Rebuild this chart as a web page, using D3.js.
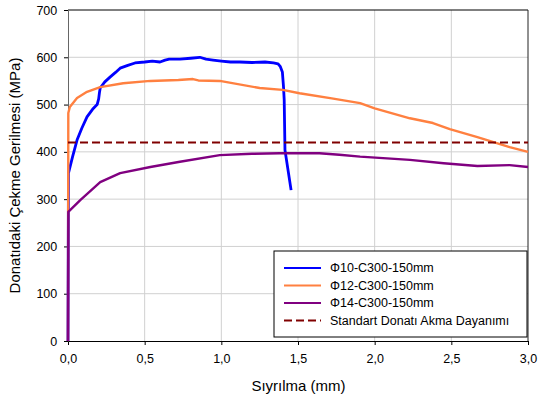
<!DOCTYPE html>
<html>
<head>
<meta charset="utf-8">
<script src="https://cdn.jsdelivr.net/npm/d3@7"></script>
<style>
  body { margin: 0; background: #fff; }
  text { font-family: "Liberation Sans", Arial, sans-serif; fill: #000; }
</style>
</head>
<body>
<div id="chart"></div>
<script>
const xTicks = [0, 0.5, 1.0, 1.5, 2.0, 2.5, 3.0];
const yTicks = [0, 100, 200, 300, 400, 500, 600, 700];

const phi10X = [0, 0.003, 0.03, 0.059, 0.09, 0.124, 0.16, 0.19, 0.2, 0.205, 0.21, 0.24, 0.274, 0.31, 0.34, 0.39, 0.437, 0.5, 0.55, 0.6, 0.633, 0.66, 0.73, 0.8, 0.86, 0.9, 0.946, 1.0, 1.06, 1.12, 1.2, 1.285, 1.34, 1.37, 1.385, 1.398, 1.405, 1.41, 1.415, 1.455];
const phi10Y = [0, 355, 390, 425, 450, 474, 490, 500, 512, 525, 535, 548, 558, 568, 577, 583, 588, 590, 592, 590, 594, 596, 596, 598, 600, 596, 594, 592, 590, 590, 589, 590, 588, 586, 580, 569, 540, 510, 404, 319];

const phi12X = [0, 0.002, 0.012, 0.059, 0.124, 0.21, 0.36, 0.537, 0.72, 0.815, 0.85, 0.99, 1.25, 1.40, 1.51, 1.72, 1.905, 2.0, 2.23, 2.38, 2.49, 2.67, 2.77, 2.88, 3.0];
const phi12Y = [0, 482, 495, 514, 527, 537, 545, 550, 552, 554, 551, 550, 535, 531, 524, 513, 503, 492, 471, 461, 448, 431, 421, 410, 400];

const phi14X = [0, 0.002, 0.08, 0.21, 0.34, 0.537, 0.73, 0.99, 1.20, 1.38, 1.64, 1.77, 1.905, 2.23, 2.45, 2.67, 2.88, 3.0];
const phi14Y = [0, 273, 298, 336, 355, 368, 379, 393, 396, 397, 397, 394, 390, 383, 376, 370, 372, 368];

const yieldX = [0, 3.0];
const yieldY = [420, 420];

const seriesNames = ["\u03a610-C300-150mm", "\u03a612-C300-150mm", "\u03a614-C300-150mm", "Standart Donat\u0131 Akma Dayan\u0131m\u0131"];
const seriesColors = ["#0000ff", "#ff8040", "#800080", "#800000"];
const seriesWidths = [2.8, 2.4, 2.4, 2];

const W = 539, H = 401;
const m = { left: 68, right: 11, top: 10, bottom: 60 };

const svg = d3.select("#chart").append("svg")
  .attr("width", W).attr("height", H);

const x = d3.scaleLinear().domain([0, 3]).range([m.left, W - m.right]);
const y = d3.scaleLinear().domain([0, 700]).range([H - m.bottom, m.top]);

const fmt = d => d3.format(".1f")(d).replace(".", ",");

// grid
svg.append("g").selectAll("line").data(yTicks.slice(1, -1)).enter().append("line")
  .attr("x1", x(0)).attr("x2", x(3)).attr("y1", d => y(d)).attr("y2", d => y(d))
  .attr("stroke", "#d0d0d0").attr("stroke-width", 1);
svg.append("g").selectAll("line").data(xTicks.slice(1, -1)).enter().append("line")
  .attr("y1", y(0)).attr("y2", y(700)).attr("x1", d => x(d)).attr("x2", d => x(d))
  .attr("stroke", "#d0d0d0").attr("stroke-width", 1);

// frame
svg.append("line").attr("x1", x(0)).attr("x2", x(3)).attr("y1", y(700)).attr("y2", y(700))
  .attr("stroke", "#000");
svg.append("line").attr("x1", x(3)).attr("x2", x(3)).attr("y1", y(700)).attr("y2", y(0))
  .attr("stroke", "#222");

// axes
const xAxis = svg.append("g").attr("transform", `translate(0,${y(0)})`)
  .call(d3.axisBottom(x).tickValues(xTicks).tickFormat(fmt).tickSize(4).tickSizeOuter(0));
const yAxis = svg.append("g").attr("transform", `translate(${x(0)},0)`)
  .call(d3.axisLeft(y).tickValues(yTicks).tickSize(4).tickSizeOuter(0));
xAxis.select(".domain").attr("stroke", "#000");
yAxis.select(".domain").attr("stroke", "#666");
xAxis.selectAll("text").attr("font-size", 12.5).attr("dy", "1.2em")
  .style("font-family", '"Liberation Sans", Arial, sans-serif');
yAxis.selectAll("text").attr("font-size", 12.5).attr("dx", "-0.3em")
  .style("font-family", '"Liberation Sans", Arial, sans-serif');
yAxis.selectAll(".tick line").attr("stroke", "#000");
xAxis.selectAll(".tick line").attr("stroke", "#000");

// titles
svg.append("text").attr("x", 298.5).attr("y", 391)
  .attr("text-anchor", "middle").attr("font-size", 15).text("S\u0131yr\u0131lma (mm)");
svg.append("text").attr("transform", `translate(20,${(y(0) + y(700)) / 2}) rotate(-90)`)
  .attr("text-anchor", "middle").attr("font-size", 15).text("Donat\u0131daki \u00c7ekme Gerilmesi (MPa)");

// lines
const line = d3.line().x(d => x(d[0])).y(d => y(d[1]));
const plot = svg.append("g");
const sets = [[phi10X, phi10Y], [phi12X, phi12Y], [phi14X, phi14Y]];
sets.forEach((s, i) => {
  plot.append("path")
    .datum(d3.zip(s[0], s[1]))
    .attr("fill", "none")
    .attr("stroke", seriesColors[i])
    .attr("stroke-width", seriesWidths[i])
    .attr("stroke-linejoin", "round")
    .attr("d", line);
});
plot.append("path")
  .datum(d3.zip(yieldX, yieldY))
  .attr("fill", "none")
  .attr("stroke", seriesColors[3])
  .attr("stroke-width", seriesWidths[3])
  .attr("stroke-dasharray", "8,4")
  .attr("d", line);

// legend
const lg = svg.append("g").attr("transform", "translate(274,251)");
lg.append("rect").attr("width", 253).attr("height", 86)
  .attr("fill", "#fff").attr("stroke", "#000").attr("stroke-width", 1);
seriesNames.forEach((name, i) => {
  const yy = 17 + i * 17.5;
  lg.append("line").attr("x1", 10).attr("x2", 47).attr("y1", yy).attr("y2", yy)
    .attr("stroke", seriesColors[i]).attr("stroke-width", 2.2)
    .attr("stroke-dasharray", i === 3 ? "8,4" : null);
  lg.append("text").attr("x", 56).attr("y", yy + 4).attr("font-size", 12.5).text(name);
});
</script>
</body>
</html>
